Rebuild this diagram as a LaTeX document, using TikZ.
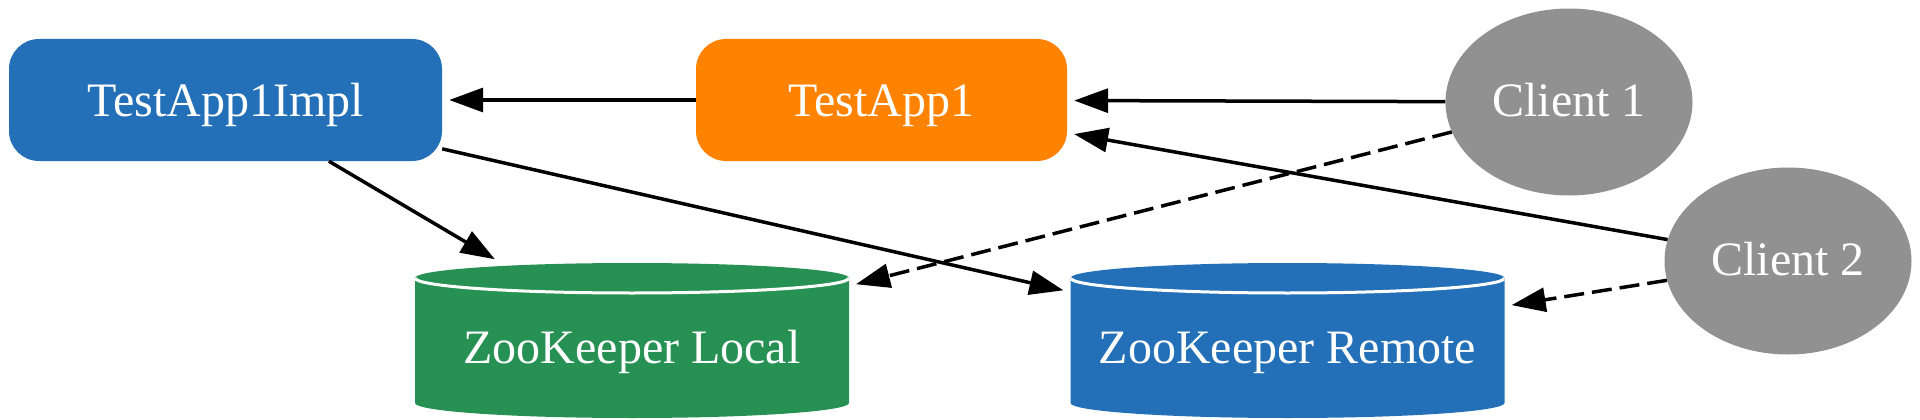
\documentclass[tikz,border=0pt]{standalone}
\usepackage{fontspec}
\setmainfont{Liberation Serif}
\usepackage{tikz}
\usetikzlibrary{arrows.meta,shapes.geometric}
\definecolor{appblue}{RGB}{35,112,184}
\definecolor{apporange}{RGB}{255,130,0}
\definecolor{zkgreen}{RGB}{38,145,83}
\definecolor{clientgray}{RGB}{145,145,145}
\begin{document}
\begin{tikzpicture}[x=1pt,y=-1pt]
					\tikzstyle{box}=[rectangle,rounded corners=30pt,text=white,font=\fontsize{48}{58}\selectfont,minimum height=122pt,text height=34pt,text depth=0pt]
					\tikzstyle{client}=[ellipse,fill=clientgray,text=white,font=\fontsize{48}{58}\selectfont,minimum width=247pt,minimum height=187pt,text height=29pt,text depth=0pt]
					\tikzstyle{store}=[rectangle,inner sep=0pt,text=white,font=\fontsize{48}{58}\selectfont,minimum width=434pt,minimum height=155pt,text height=45pt,text depth=0pt,
						path picture={
							\fill[#1] ([yshift=-15pt]path picture bounding box.north west) arc[start angle=180,end angle=0,x radius=217pt,y radius=15pt]
								-- ([yshift=15pt]path picture bounding box.south east) arc[start angle=0,end angle=-180,x radius=217pt,y radius=15pt] -- cycle;
							\draw[white,line width=3pt] ([yshift=-15pt]path picture bounding box.north west) arc[start angle=180,end angle=360,x radius=217pt,y radius=15pt];
						}]
					\tikzstyle{arr}=[line width=3.5pt,-{Triangle[length=34pt,width=24pt]},shorten >=7pt]
					\useasboundingbox (0,0) rectangle (1920,420);
					\node[box,fill=appblue,minimum width=433pt] (1) at (225.5,100) {TestApp1Impl};
					\node[box,fill=apporange,minimum width=371pt] (2) at (881.5,100) {TestApp1};
					\node[client] (3) at (1569,102) {Client 1};
					\node[client] (4) at (1788,261) {Client 2};
					\node[store=zkgreen] (5) at (632,340.5) {ZooKeeper Local};
					\node[store=appblue] (6) at (1287.5,340.5) {ZooKeeper Remote};
					\draw[arr] (2) -- (1);
					\draw[arr] (3) -- (2);
					\draw[arr] (4) -- (2);
					\draw[arr] (1) -- (5);
					\draw[arr] (1) -- (6);
					\draw[arr,dash pattern=on 20pt off 8pt] (3) -- (5);
					\draw[arr,dash pattern=on 20pt off 8pt] (4) -- (6);
\end{tikzpicture}
\end{document}
